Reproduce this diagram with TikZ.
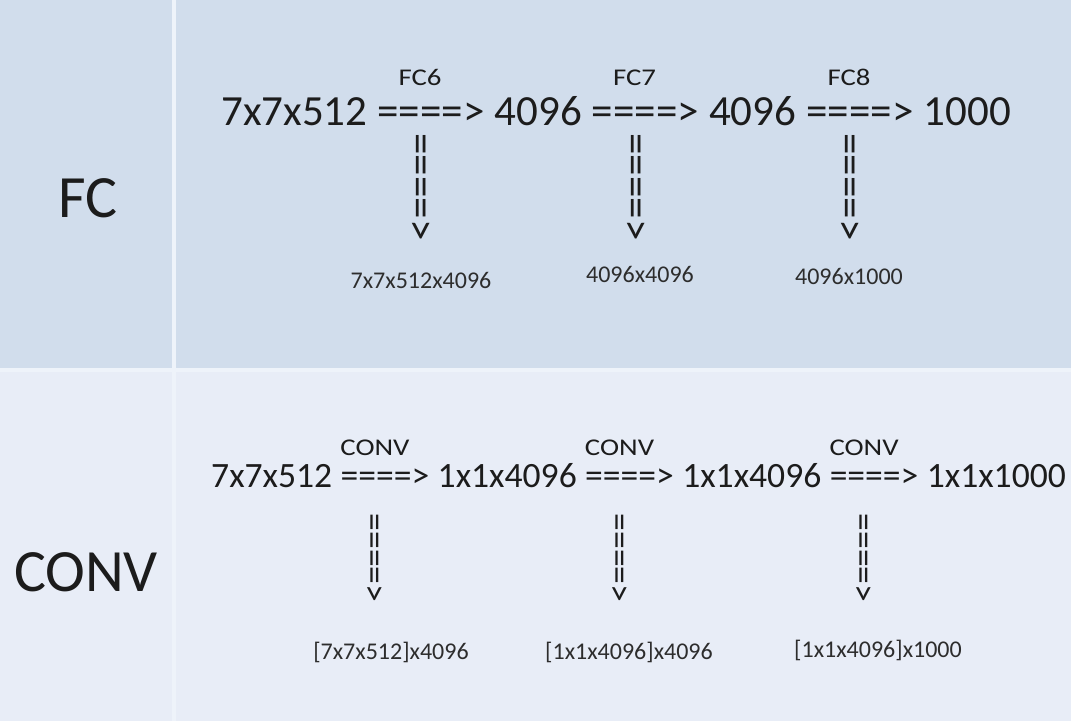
\documentclass[tikz,border=0pt]{standalone}
\usepackage{fontspec}
\setmainfont{Carlito}
\usetikzlibrary{positioning,calc}
\definecolor{rowtop}{RGB}{209,221,236}
\definecolor{rowbot}{RGB}{232,237,247}
\definecolor{gridln}{RGB}{238,243,250}
\definecolor{ink}{RGB}{28,28,28}
\definecolor{subink}{RGB}{45,45,45}
\tikzset{
  hdr/.style={font=\fontsize{60}{66}\selectfont, text=ink, inner sep=0pt},
  numA/.style={font=\fontsize{43}{50}\selectfont, text=ink, inner sep=0pt,
               text height=28pt, text depth=0pt},
  numB/.style={font=\fontsize{35.6}{42}\selectfont, text=ink, inner sep=0pt,
               text height=23pt, text depth=0pt},
  lyr/.style={font=\fontsize{24}{28}\selectfont, text=ink, inner sep=0pt,
              anchor=base, xscale=1.2},
  vdnA/.style={font=\fontsize{43}{50}\selectfont, text=ink, inner sep=0pt, rotate=-90},
  vdnB/.style={font=\fontsize{35.6}{42}\selectfont, text=ink, inner sep=0pt, rotate=-90},
  sub/.style={font=\fontsize{24}{28}\selectfont, text=subink, inner sep=0pt},
}

\begin{document}
\begin{tikzpicture}[x=1pt, y=-1pt]
    \def\spA{9.7pt} \def\spB{8pt}
    \useasboundingbox (0,0) rectangle (1071,721);
    % table cells
    \fill[rowtop] (0,0) rectangle (1071,370);
    \fill[rowbot] (0,370) rectangle (1071,721);
    \draw[gridln, line width=4pt] (174,0) -- (174,721);
    \draw[gridln, line width=4pt] (0,370) -- (1071,370);
    \node[hdr] (fc) at (88,198) {FC};
    \node[hdr] (conv) at (86,572) {CONV};
    % fully connected row
    \node[numA, anchor=base west] (f0) at (221,125) {7x7x512};
    \node[numA, right=\spA of f0] (fa1) {====>};
    \node[numA, right=\spA of fa1] (f1) {4096};
    \node[numA, right=\spA of f1] (fa2) {====>};
    \node[numA, right=\spA of fa2] (f2) {4096};
    \node[numA, right=\spA of f2] (fa3) {====>};
    \node[numA, right=\spA of fa3] (f3) {1000};
    \foreach \a/\t in {fa1/FC6, fa2/FC7, fa3/FC8} {
      \node[lyr] (\a-l) at ([xshift=-11pt, yshift=40pt]\a.base) {\t};
      \node[vdnA] (\a-v) at ([xshift=-12pt, yshift=-62pt]\a.base) {====>};
    }
    \node[sub] (fw1) at (421,280) {7x7x512x4096};
    \node[sub] (fw2) at (640,274) {4096x4096};
    \node[sub] (fw3) at (849,276) {4096x1000};
    % convolutional row
    \node[numB, anchor=base west] (c0) at (211,487) {7x7x512};
    \node[numB, right=\spB of c0] (ca1) {====>};
    \node[numB, right=\spB of ca1] (c1) {1x1x4096};
    \node[numB, right=\spB of c1] (ca2) {====>};
    \node[numB, right=\spB of ca2] (c2) {1x1x4096};
    \node[numB, right=\spB of c2] (ca3) {====>};
    \node[numB, right=\spB of ca3] (c3) {1x1x1000};
    \foreach \a in {ca1, ca2, ca3} {
      \node[lyr] (\a-l) at ([xshift=-10pt, yshift=32pt]\a.base) {CONV};
      \node[vdnB] (\a-v) at ([xshift=-12pt, yshift=-71pt]\a.base) {====>};
    }
    \node[sub] (cw1) at (391,652) {[7x7x512]x4096};
    \node[sub] (cw2) at (629,652) {[1x1x4096]x4096};
    \node[sub] (cw3) at (878,650) {[1x1x4096]x1000};
\end{tikzpicture}
\end{document}
